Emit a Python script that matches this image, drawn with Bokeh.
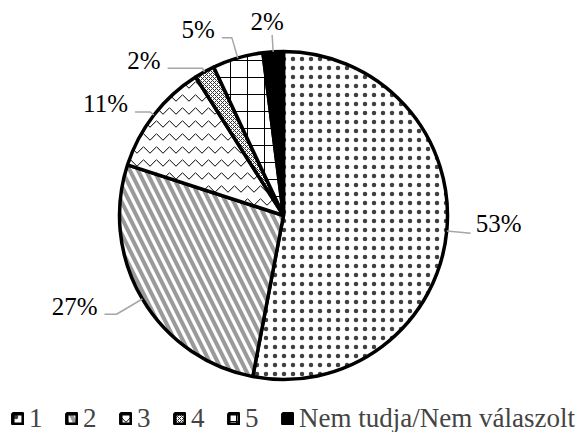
import math
from bokeh.plotting import figure
from bokeh.models import ColumnDataSource, Range1d, Legend, LegendItem
from bokeh.embed import file_html
from bokeh.resources import INLINE

# ---------------- data ----------------
categories = ["1", "2", "3", "4", "5", "Nem tudja/Nem válaszolt"]
shares = [53, 27, 11, 2, 5, 2]          # percent
label_texts = ["53%", "27%", "11%", "2%", "5%", "2%"]

# ---------------- styles / layout ----------------
fill_colors = ["white", "white", "white", "white", "white", "black"]
hatch_patterns = [".", "\\", "v", "x", "+", " "]
hatch_colors = ["black", "#9a9a9a", "black", "#333333", "black", "black"]
hatch_scales = [9, 16, 13, 4, 17, 1]
hatch_weights = [0.5, 4, 1, 1, 1, 1]
hatch_alphas = [0.75, 1, 1, 1, 1, 1]

W, H = 581, 432
CX, CY, R = 283, 217, 164
leader_ext = [24, 30, 5, 4, 21, 17]     # radial extension of leader line
leader_h = [0, 12, 15, 35, 10, 0]       # horizontal part of leader line
FONT = "Liberation Serif"

total = float(sum(shares))
cum = [0.0]
for s in shares:
    cum.append(cum[-1] + s / total)

starts = [math.pi / 2 - 2 * math.pi * cum[i] for i in range(len(shares))]
ends = [math.pi / 2 - 2 * math.pi * cum[i + 1] for i in range(len(shares))]

src = ColumnDataSource(dict(
    x=[CX] * len(shares), y=[CY] * len(shares),
    start=starts, end=ends, cat=categories,
    fill=fill_colors, hatch=hatch_patterns, hcol=hatch_colors,
    hscale=hatch_scales, hweight=hatch_weights, halpha=hatch_alphas,
))

p = figure(width=W, height=H, output_backend="svg", toolbar_location=None,
           x_range=Range1d(0, W), y_range=Range1d(0, H),
           x_axis_location=None, y_axis_location=None, min_border=0)
p.grid.visible = False
p.outline_line_color = None
p.background_fill_color = "white"

wr = p.wedge(x="x", y="y", radius=R, radius_units="screen",
             start_angle="start", end_angle="end", direction="clock",
             fill_color="fill", hatch_pattern="hatch", hatch_color="hcol",
             hatch_scale="hscale", hatch_weight="hweight", hatch_alpha="halpha",
             line_color="black", line_width=3.5, source=src)

# leader lines and labels
for i, s in enumerate(shares):
    th = 2 * math.pi * (cum[i] + cum[i + 1]) / 2   # clockwise from top
    dx, dy = math.sin(th), math.cos(th)
    ax, ay = CX + R * dx, CY + R * dy
    ex, ey = CX + (R + leader_ext[i]) * dx, CY + (R + leader_ext[i]) * dy
    side = 1 if dx > 0.2 else -1
    tx, ty = ex + side * leader_h[i], ey
    p.line([ax, ex, tx], [ay, ey, ty], line_color="#a6a6a6", line_width=1.5)
    if abs(dx) < 0.2:
        px, py, al = ex - 5, ey + 13, "center"
    elif side > 0:
        px, py, al = tx + 5, ty + 10, "left"
    else:
        px, py, al = tx - 7, ty + 8, "right"
    p.text([px], [py], text=[label_texts[i]], text_align=al,
           text_baseline="middle", text_font={"value": FONT},
           text_font_size="25px", text_color="black")

legend = Legend(items=[LegendItem(label=c, renderers=[wr], index=i)
                       for i, c in enumerate(categories)],
                orientation="horizontal", location=(11, -2),
                padding=0, margin=0, spacing=16, label_standoff=5,
                glyph_width=13, glyph_height=13,
                label_text_font=FONT, label_text_font_size="27px",
                border_line_alpha=0, background_fill_alpha=0)
p.add_layout(legend)

open("out.html", "w").write(file_html(p, INLINE))
